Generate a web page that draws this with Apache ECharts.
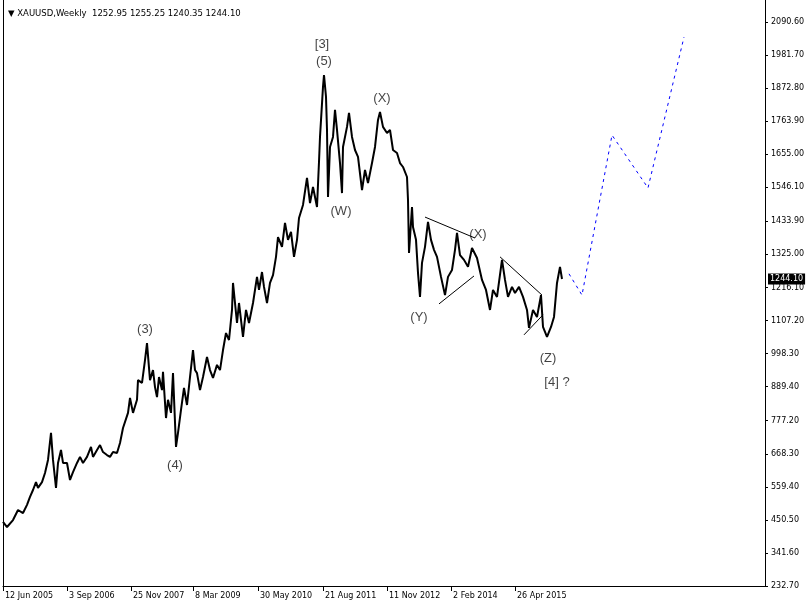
<!DOCTYPE html>
<html>
<head>
<meta charset="utf-8">
<script src="https://cdn.jsdelivr.net/npm/echarts@6/dist/echarts.min.js"></script>
<style>html,body{margin:0;padding:0;background:#fff}#c{width:808px;height:607px}</style>
</head>
<body>
<div id="c"></div>
<script>
// week index from the first bar (12 Jun 2005) and the price
const weeks = [0,4,10,15,20,24,27,30,33,35,39,42,45,48,50,53,55,58,60,64,67,70,74,77,80,84,88,90,94,97,100,104,107,110,114,117,120,125,127,130,134,135,139,142,144,147,150,152,154,156,159,160,163,165,168,170,173,175,178,181,184,187,190,192,194,197,200,204,207,210,214,217,220,223,226,229,230,234,236,240,243,246,250,254,256,259,261,264,267,270,273,275,279,282,285,288,291,294,296,300,304,307,310,314,316,317,320,321,323,324,325,327,330,332,334,337,339,340,344,346,349,352,355,359,362,365,369,372,375,377,380,384,387,390,394,397,400,404,405,406,409,410,413,415,417,419,422,425,428,431,434,438,442,445,449,452,454,457,461,465,469,474,479,483,487,490,494,499,502,505,509,512,516,520,524,526,530,534,538,540,544,548,551,554,557,559];
const prices = [444,427,450,483,473,500,526,549,575,556,575,605,648,737,648,556,638,681,638,638,582,608,638,658,638,658,691,658,681,697,674,664,658,674,671,704,753,803,852,803,846,911,902,977,1033,911,944,888,855,921,878,938,786,846,803,934,691,737,813,885,829,921,1010,944,934,878,921,987,944,918,961,944,1010,1066,1043,1142,1231,1099,1165,1053,1142,1099,1165,1251,1208,1267,1218,1165,1231,1257,1317,1382,1350,1429,1373,1399,1317,1373,1445,1488,1577,1494,1547,1481,1630,1712,1877,1916,1844,1735,1514,1679,1712,1801,1735,1626,1527,1679,1745,1791,1712,1669,1646,1537,1603,1560,1626,1679,1768,1794,1745,1725,1735,1669,1659,1626,1613,1580,1504,1330,1481,1415,1373,1264,1185,1297,1350,1432,1373,1340,1317,1251,1191,1251,1274,1340,1396,1323,1307,1284,1346,1313,1241,1208,1142,1208,1185,1307,1241,1185,1218,1198,1218,1185,1142,1083,1142,1119,1191,1086,1053,1086,1119,1231,1284,1244];
const lastClose = 1244.10;

// axis ticks
const tickWeeks = [0,64,128,190,255,320,384,448,512];
const tickDates = ['12 Jun 2005','3 Sep 2006','25 Nov 2007','8 Mar 2009','30 May 2010','21 Aug 2011','11 Nov 2012','2 Feb 2014','26 Apr 2015'];
const priceTicks = [232.70,341.60,450.50,559.40,668.30,777.20,889.40,998.30,1107.20,1216.10,1325.00,1433.90,1546.10,1655.00,1763.90,1872.80,1981.70,2090.60];

// triangle trend lines [startWeek, startPrice, endWeek, endPrice]
const triUpperA = [422,1448,472,1379];
const triLowerA = [436,1162,471,1254];
const triUpperB = [497,1317,539,1191];
const triLowerB = [521,1060,540,1126];

// projected path (blue dashed)
const projWeeks = [566,579,609,645,681];
const projPrices = [1261,1191,1718,1544,2041];

// wave labels
const waveLabels = ['[3]','(5)','(X)','(W)','(X)','(Y)','(Z)','[4] ?','(3)','(4)'];
const waveWeeks = [319,321,379,338,475,416,545,554,142,172];
const wavePrices = [2018,1962,1840,1468,1392,1116,984,902,1079,631];

const FONT = 'DejaVu Sans';
const yMin = 232.7, yMax = 2163.07;

const seg = a => [[a[0],a[1]],[a[2],a[3]]];
const thin = d => ({type:'line', data:seg(d), showSymbol:false, silent:true,
  lineStyle:{color:'#000', width:1}});

const chart = echarts.init(document.getElementById('c'));
chart.setOption({
  animation:false,
  backgroundColor:'#ffffff',
  title:{text:'\u25BC XAUUSD,Weekly  1252.95 1255.25 1240.35 1244.10', left:3, top:4,
    textStyle:{fontFamily:FONT, fontSize:8.5, fontWeight:'normal', color:'#000'}},
  grid:{left:3, right:43, top:0, bottom:21},
  xAxis:{type:'value', min:0, max:762,
    axisLine:{show:true, onZero:false, lineStyle:{color:'#000', width:1}},
    axisTick:{show:true, customValues:tickWeeks, length:5, lineStyle:{color:'#000'}},
    axisLabel:{customValues:tickWeeks, formatter:v=>tickDates[tickWeeks.indexOf(v)],
      align:'left', margin:6, padding:[0,0,0,2], fontFamily:FONT, fontSize:8, color:'#000'},
    splitLine:{show:false}},
  yAxis:[
    {type:'value', position:'right', min:yMin, max:yMax,
      axisLine:{show:true, onZero:false, lineStyle:{color:'#000', width:1}},
      axisTick:{show:true, customValues:priceTicks, length:3, lineStyle:{color:'#000'}},
      axisLabel:{customValues:priceTicks, formatter:v=>v.toFixed(2), margin:6,
        fontFamily:FONT, fontSize:8, color:'#000'},
      splitLine:{show:false}},
    {type:'value', position:'left', min:yMin, max:yMax,
      axisLine:{show:true, onZero:false, lineStyle:{color:'#000', width:1}},
      axisTick:{show:false}, axisLabel:{show:false}, splitLine:{show:false}}
  ],
  series:[
    {type:'line', data:weeks.map((w,i)=>[w,prices[i]]), showSymbol:false,
      lineStyle:{color:'#000', width:2},
      markLine:{symbol:'none', silent:true, lineStyle:{color:'rgba(0,0,0,0)'},
        label:{position:'end', distance:3, formatter:lastClose.toFixed(2),
          backgroundColor:'#000', color:'#fff', padding:[2,2,1,2], fontFamily:FONT, fontSize:8},
        data:[{yAxis:lastClose}]}},
    thin(triUpperA), thin(triLowerA), thin(triUpperB), thin(triLowerB),
    {type:'line', data:projWeeks.map((w,i)=>[w,projPrices[i]]), showSymbol:false, silent:true,
      lineStyle:{color:'#0000ff', width:1, type:[3,4]}},
    {type:'scatter', symbolSize:0, silent:true,
      data:waveWeeks.map((w,i)=>({value:[w,wavePrices[i]], name:waveLabels[i]})),
      label:{show:true, position:'inside', formatter:p=>p.name,
        fontFamily:'Liberation Sans', fontSize:13, color:'#111'}}
  ]
});
</script>
</body>
</html>
